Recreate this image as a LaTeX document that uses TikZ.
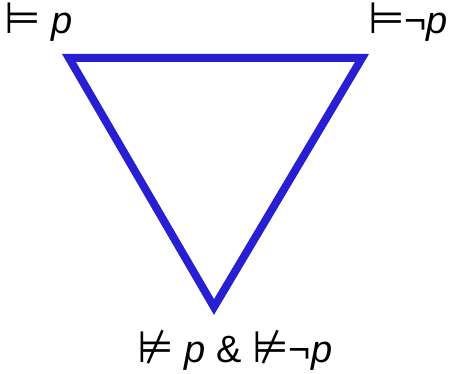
\documentclass[tikz,border=0pt]{standalone}
\usepackage{fontspec}
\usepackage{graphicx}
\setmainfont{Liberation Sans}
\newfontfamily\symfont{DejaVu Sans}
\newcommand{\ent}{\scalebox{1.1}[1.15]{\symfont ⊨}}
\newcommand{\nent}{\scalebox{1.1}[1.15]{\symfont ⊭}}
\begin{document}
\begin{tikzpicture}
			[x=1pt, y=-1pt, every node/.style={font=\fontsize{38}{44}\selectfont, inner sep=0pt, text height=27pt, text depth=8pt}]
			\useasboundingbox (0,0) rectangle (449,374);
			\coordinate (a) at (69,58);
			\coordinate (b) at (362,58);
			\coordinate (c) at (214,307);
			
			\node[anchor=base west] (la) at (4,34) {\ent\ \textit{p}};
			\node[anchor=base east] (lb) at (448,34) {\ent¬\textit{p}};
			\node[anchor=base] (lc) at (235,362) {\nent\ \textit{p} \& \nent¬\textit{p}};
			\draw[line width=8pt, color={rgb,255:red,40;green,30;blue,210}, line join=miter] (a) -- (b) -- (c) -- cycle;
		\end{tikzpicture}
\end{document}
